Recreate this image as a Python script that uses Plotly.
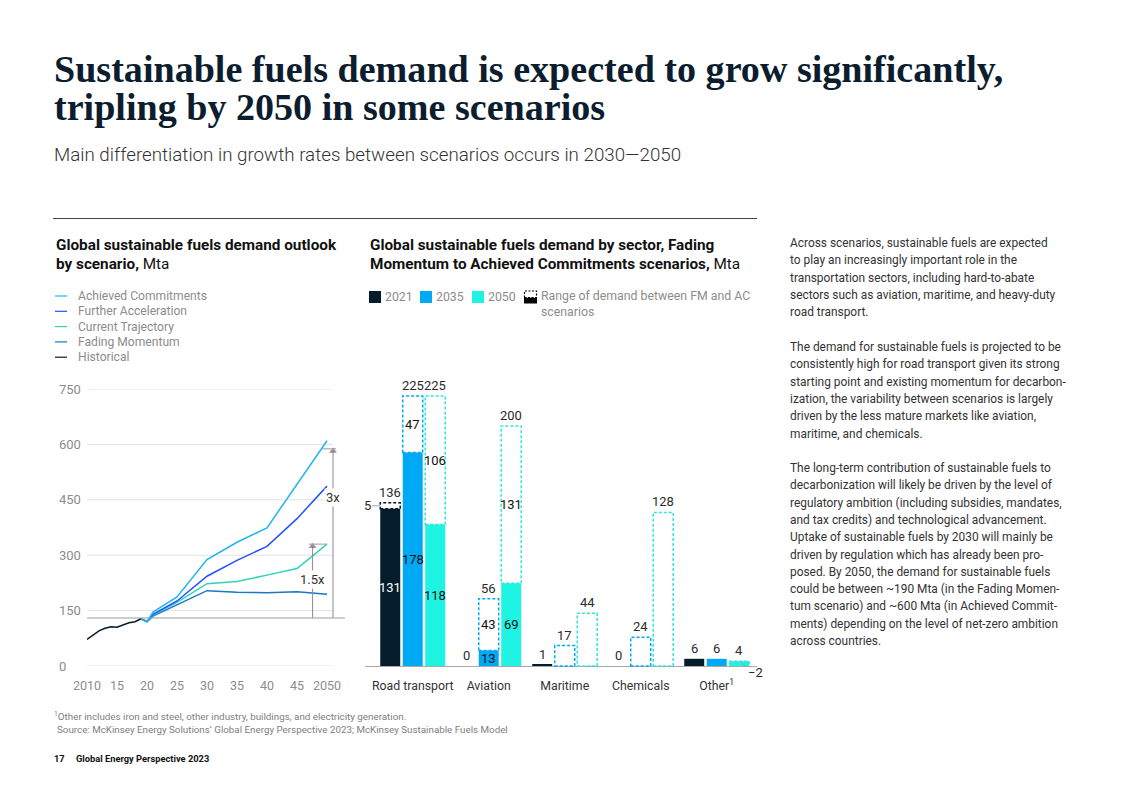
import plotly.graph_objects as go

# The page body keeps an 8px margin; the autosized figure fills the rest.
OFF = 8
FIG_W, FIG_H = 1123 - 2 * OFF, 794 - 2 * OFF


def PX(x):
    return (x - OFF) / FIG_W


def PY(y):
    return 1 - (y - OFF) / FIG_H


# ---------------- data: left chart (Mta) ----------------
hist_years = [2010, 2011, 2012, 2013, 2014, 2015, 2016, 2017, 2018, 2019]
hist_values = [72, 84, 95, 102, 106, 105, 111, 117, 120, 128]

scen_years = [2019, 2020, 2021, 2025, 2030, 2035, 2040, 2045, 2050]
ac_values = [128, 120, 146, 187, 288, 335, 374, 491, 610]   # Achieved Commitments
fa_values = [128, 120, 140, 176, 243, 286, 324, 399, 487]   # Further Acceleration
ct_values = [128, 120, 138, 172, 223, 229, 246, 264, 330]   # Current Trajectory
fm_values = [128, 120, 135, 165, 204, 200, 198, 201, 194]   # Fading Momentum

left_y_ticks = [0, 150, 300, 450, 600, 750]
left_x_ticks = [2010, 2015, 2020, 2025, 2030, 2035, 2040, 2045, 2050]
left_x_labels = ["2010", "15", "20", "25", "30", "35", "40", "45", "2050"]

base_level = 130          # reference level the multipliers start from
mult_3x = {"x": 2051, "top": 588, "label": "3x", "label_y": 455}
mult_15x = {"x": 2047.6, "top": 330, "label": "1.5x", "label_y": 233}

# ---------------- data: right chart (Mta) ----------------
sectors = ["Road transport", "Aviation", "Maritime", "Chemicals", "Other<sup>1</sup>"]
bar_years = ["2021", "2035", "2050"]
fm_2021 = [131, 0, 1, 0, 6]          # Fading Momentum (solid bar)
fm_2035 = [178, 13, 0, 0, 6]
fm_2050 = [118, 69, 0, 0, 4]
range_2021 = [5, 0, 0, 0, 0]         # FM -> AC range (dashed box)
range_2035 = [47, 43, 17, 24, 0]
range_2050 = [106, 131, 44, 128, -2]
ac_2021 = [136, 0, 1, 0, 6]          # Achieved Commitments total (label)
ac_2035 = [225, 56, 17, 24, 6]
ac_2050 = [225, 200, 44, 128, 2]

# ---------------- styles ----------------
NAVY = "#051c2c"
C_AC = "#1fb4f2"
C_FA = "#2251ff"
C_CT = "#34d1b4"
C_FM = "#1b78c4"
C_2021 = "#051c2c"
C_2035 = "#00a9f4"
C_2050 = "#1ff3e2"
GRAY_TXT = "#8c8c8c"
DARK_TXT = "#2b2b2b"
FONT = "Roboto"

fig = go.Figure()

# ---- left line chart ----
for name, yrs, vals, col in [
    ("Fading Momentum", scen_years, fm_values, C_FM),
    ("Current Trajectory", scen_years, ct_values, C_CT),
    ("Further Acceleration", scen_years, fa_values, C_FA),
    ("Achieved Commitments", scen_years, ac_values, C_AC),
    ("Historical", hist_years, hist_values, NAVY),
]:
    fig.add_trace(go.Scatter(x=yrs, y=vals, mode="lines", name=name,
                             line=dict(color=col, width=1.5),
                             xaxis="x", yaxis="y", showlegend=False,
                             hoverinfo="skip"))

# multiplier arrows (line with arrow head on top)
for m in (mult_3x, mult_15x):
    fig.add_trace(go.Scatter(x=[m["x"], m["x"]], y=[base_level, m["top"] - 6],
                             mode="lines+markers",
                             line=dict(color="#8a8a8a", width=1),
                             marker=dict(symbol=["circle", "triangle-up"], size=[0, 7],
                                         color="#6e6e6e", line=dict(width=0)),
                             xaxis="x", yaxis="y", showlegend=False, hoverinfo="skip",
                             cliponaxis=False))

# ---- right bar chart ----
BAR_W = 0.263
centers = [-0.296, 0.0, 0.296]
fm_series = [fm_2021, fm_2035, fm_2050]
rng_series = [range_2021, range_2035, range_2050]
ac_series = [ac_2021, ac_2035, ac_2050]
bar_colors = [C_2021, C_2035, C_2050]
box_colors = [NAVY, C_2035, "#2ee6db"]
xs = list(range(len(sectors)))

for yr, vals, col, c in zip(bar_years, fm_series, bar_colors, centers):
    fig.add_trace(go.Bar(x=xs, y=vals, name=yr, width=BAR_W, offset=c - BAR_W / 2,
                         marker=dict(color=col, line=dict(width=0)),
                         xaxis="x2", yaxis="y2", showlegend=False,
                         hoverinfo="skip"))

shapes = []
annotations = []


def ann(**kw):
    base = dict(showarrow=False, yanchor="middle", xanchor="center",
                font=dict(family=FONT, size=13, color=DARK_TXT))
    if "font" in kw:
        f = dict(base["font"])
        f.update(kw.pop("font"))
        base["font"] = f
    base.update(kw)
    annotations.append(base)


# dashed range boxes and bar labels
for k, (vals, rngs, tots, c) in enumerate(zip(fm_series, rng_series, ac_series, centers)):
    for i in xs:
        v, r, t = vals[i], rngs[i], tots[i]
        x0 = i + c - BAR_W / 2
        x1 = x0 + BAR_W
        xc = i + c
        if r != 0:
            shapes.append(dict(type="rect", xref="x2", yref="y2", x0=x0, x1=x1,
                               y0=v, y1=v + r if r < 0 else t, layer="above",
                               line=dict(color=box_colors[k], width=1.5, dash="3px,2px"),
                               fillcolor="rgba(0,0,0,0)"))
        # solid value
        if v >= 10:
            ann(x=xc, y=v / 2, xref="x2", yref="y2",
                text=str(v), font=dict(color="white" if k == 0 else "#111"))
        elif r <= 0:
            ann(x=xc, y=v, xref="x2", yref="y2", yanchor="bottom", yshift=1,
                text=str(v))
        # range value
        if r >= 10 and v > 0:
            ann(x=xc, y=(v + t) / 2, xref="x2", yref="y2", text=str(r),
                font=dict(color="#111"))
        if r > 0:
            ann(x=xc, y=t, xref="x2", yref="y2", yanchor="bottom", yshift=1,
                text=str(t))
        if 0 < r < 10:
            ann(x=x0, y=(v + t) / 2, xref="x2", yref="y2", text=str(r),
                showarrow=True, ax=-13, ay=0, arrowhead=0, arrowwidth=1,
                arrowcolor="#a0a0a0", standoff=0)
        if r < 0:
            ann(x=x1 - 0.1, y=v + r, xref="x2", yref="y2",
                text="\u2212" + str(abs(r)),
                showarrow=True, ax=14, ay=9, arrowhead=0, arrowwidth=1,
                arrowcolor="#a0a0a0", standoff=0)

# left chart gridlines, baseline, multipliers
for v in left_y_ticks:
    shapes.append(dict(type="line", xref="x", yref="y", x0=2010, x1=2051, y0=v, y1=v,
                       line=dict(color="#e2e2e2", width=1), layer="below"))
    ann(x=PX(57), xref="paper", y=v, yref="y", xanchor="left", text=str(v),
        font=dict(size=13, color=GRAY_TXT))
shapes.append(dict(type="line", xref="x", yref="y", x0=2010, x1=2053,
                   y0=base_level, y1=base_level, line=dict(color="#9a9a9a", width=1)))
for m, tick_from in [(mult_3x, 2049.2), (mult_15x, 2047.0)]:
    shapes.append(dict(type="line", xref="x", yref="y",
                       x0=tick_from, x1=max(m["x"] + 0.5, 2050), y0=m["top"], y1=m["top"],
                       line=dict(color="#9a9a9a", width=1)))
    ann(x=m["x"], y=m["label_y"], xref="x", yref="y", text=m["label"],
        bgcolor="white", borderpad=1, font=dict(size=13, color="#333"))

# ---------------- page texts ----------------
ann(x=PX(52), y=PY(69), xref="paper", yref="paper", xanchor="left",
    text="<b>Sustainable fuels demand is expected to grow significantly,</b>",
    font=dict(family="Liberation Serif", size=38.1, color="#0b1d2e"))
ann(x=PX(52), y=PY(107), xref="paper", yref="paper", xanchor="left",
    text="<b>tripling by 2050 in some scenarios</b>",
    font=dict(family="Liberation Serif", size=38.1, color="#0b1d2e"))
ann(x=PX(52), y=PY(155), xref="paper", yref="paper", xanchor="left",
    text="Main differentiation in growth rates between scenarios occurs in 2030\u20142050",
    font=dict(size=18.75, color="#333", weight=300))
shapes.append(dict(type="line", xref="paper", yref="paper", x0=PX(53), x1=PX(757),
                   y0=PY(218.5), y1=PY(218.5), line=dict(color="#444", width=1)))

# chart titles
TS = 15.3
ann(x=PX(54), y=PY(245), xref="paper", yref="paper", xanchor="left",
    text="<b>Global sustainable fuels demand outlook</b>", font=dict(size=TS, color="#111"))
ann(x=PX(54), y=PY(264), xref="paper", yref="paper", xanchor="left",
    text="<b>by scenario,</b> Mta", font=dict(size=TS, color="#111"))
ann(x=PX(368), y=PY(245), xref="paper", yref="paper", xanchor="left",
    text="<b>Global sustainable fuels demand by sector, Fading</b>",
    font=dict(size=TS, color="#111"))
ann(x=PX(368), y=PY(264), xref="paper", yref="paper", xanchor="left",
    text="<b>Momentum to Achieved Commitments scenarios,</b> Mta",
    font=dict(size=TS, color="#111"))

# left legend
left_legend = [("Achieved Commitments", C_AC), ("Further Acceleration", C_FA),
               ("Current Trajectory", C_CT), ("Fading Momentum", C_FM),
               ("Historical", NAVY)]
for j, (name, col) in enumerate(left_legend):
    yy = 296 + j * 15.3
    shapes.append(dict(type="line", xref="paper", yref="paper", x0=PX(55), x1=PX(67),
                       y0=PY(yy), y1=PY(yy), line=dict(color=col, width=1.2)))
    ann(x=PX(76), y=PY(yy), xref="paper", yref="paper", xanchor="left",
        text=name, font=dict(size=12.1, color=GRAY_TXT))

# right legend
for (lbl, col, x0) in [("2021", C_2021, 369), ("2035", C_2035, 420), ("2050", C_2050, 472)]:
    shapes.append(dict(type="rect", xref="paper", yref="paper", x0=PX(x0), x1=PX(x0 + 12),
                       y0=PY(303), y1=PY(291), fillcolor=col, line=dict(width=0)))
    ann(x=PX(x0 + 14), y=PY(297), xref="paper", yref="paper", xanchor="left",
        text=lbl, font=dict(size=12.3, color=GRAY_TXT))
shapes.append(dict(type="rect", xref="paper", yref="paper", x0=PX(524), x1=PX(537),
                   y0=PY(303.5), y1=PY(297.5), fillcolor="black", line=dict(width=0)))
shapes.append(dict(type="rect", xref="paper", yref="paper", x0=PX(524.5), x1=PX(536.5),
                   y0=PY(297.5), y1=PY(291), fillcolor="white",
                   line=dict(color="black", width=1.2, dash="2px,1.5px")))
ann(x=PX(539), y=PY(296), xref="paper", yref="paper", xanchor="left",
    text="Range of demand between FM and AC", font=dict(size=12.3, color=GRAY_TXT))
ann(x=PX(539), y=PY(312), xref="paper", yref="paper", xanchor="left",
    text="scenarios", font=dict(size=12.3, color=GRAY_TXT))

# right column text
paragraphs = [
    (243, ["Across scenarios, sustainable fuels are expected",
           "to play an increasingly important role in the",
           "transportation sectors, including hard-to-abate",
           "sectors such as aviation, maritime, and heavy-duty",
           "road transport."]),
    (347, ["The demand for sustainable fuels is projected to be",
           "consistently high for road transport given its strong",
           "starting point and existing momentum for decarbon-",
           "ization, the variability between scenarios is largely",
           "driven by the less mature markets like aviation,",
           "maritime, and chemicals."]),
    (468, ["The long-term contribution of sustainable fuels to",
           "decarbonization will likely be driven by the level of",
           "regulatory ambition (including subsidies, mandates,",
           "and tax credits) and technological advancement.",
           "Uptake of sustainable fuels by 2030 will mainly be",
           "driven by regulation which has already been pro-",
           "posed. By 2050, the demand for sustainable fuels",
           "could be between ~190 Mta (in the Fading Momen-",
           "tum scenario) and ~600 Mta (in Achieved Commit-",
           "ments) depending on the level of net-zero ambition",
           "across countries."]),
]
for y0, lines in paragraphs:
    for j, line in enumerate(lines):
        ann(x=PX(788), y=PY(y0 + j * 17.3), xref="paper", yref="paper", xanchor="left",
            text=line, font=dict(size=11.9, color="#333"))

# footnotes
ann(x=PX(52), y=PY(716), xref="paper", yref="paper", xanchor="left",
    text="<sup>1</sup>Other includes iron and steel, other industry, buildings, and electricity generation.",
    font=dict(size=9.8, color="#808080"))
ann(x=PX(55), y=PY(729), xref="paper", yref="paper", xanchor="left",
    text="Source: McKinsey Energy Solutions\u2019 Global Energy Perspective 2023; McKinsey Sustainable Fuels Model",
    font=dict(size=9.8, color="#808080"))
ann(x=PX(52), y=PY(758), xref="paper", yref="paper", xanchor="left",
    text="<b>17</b>", font=dict(size=9.3, color="#111"))
ann(x=PX(74), y=PY(758), xref="paper", yref="paper", xanchor="left",
    text="<b>Global Energy Perspective 2023</b>", font=dict(size=9.3, color="#111"))

fig.update_layout(
    autosize=True,
    margin=dict(l=0, r=0, t=0, b=0, autoexpand=False),
    paper_bgcolor="white", plot_bgcolor="white",
    font=dict(family=FONT, color=DARK_TXT),
    barmode="overlay",
    xaxis=dict(domain=[PX(87), PX(345)], range=[2010, 2053], anchor="y",
               tickvals=left_x_ticks, ticktext=left_x_labels,
               showgrid=False, zeroline=False, showline=False,
               ticks="outside", ticklen=8, tickcolor="rgba(0,0,0,0)",
               tickfont=dict(size=12.5, color=GRAY_TXT)),
    yaxis=dict(domain=[PY(666), PY(389)], range=[0, 750], anchor="x",
               showgrid=False, zeroline=False, showticklabels=False),
    xaxis2=dict(domain=[PX(365), PX(757)], range=[-0.628, 4.53], anchor="free",
                position=PY(666), tickvals=xs, ticktext=sectors,
                showgrid=False, zeroline=False, showline=False,
                ticks="outside", ticklen=8, tickcolor="rgba(0,0,0,0)",
                tickfont=dict(size=12.3, color="#333")),
    yaxis2=dict(domain=[PY(678), PY(384)], range=[-10, 235], anchor="x2",
                showgrid=False, showticklabels=False,
                zeroline=True, zerolinecolor="#a8a8a8", zerolinewidth=1),
    shapes=shapes,
    annotations=annotations,
    showlegend=False,
)

fig.write_html("out.html")
